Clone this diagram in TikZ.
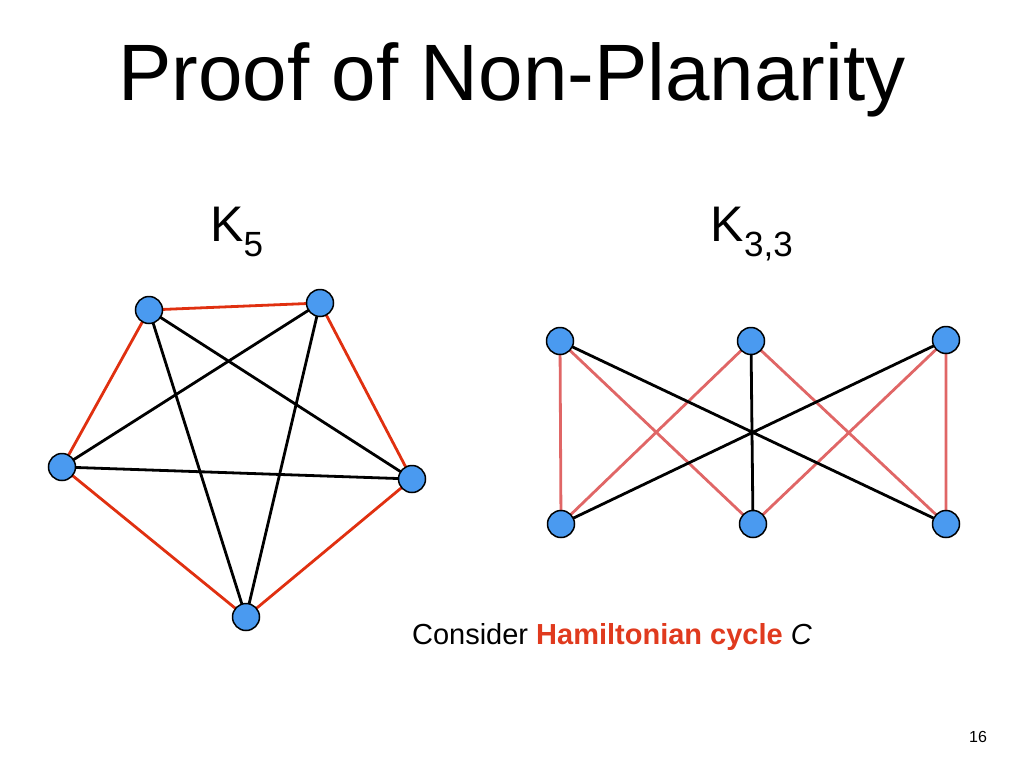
\documentclass[tikz,border=0pt]{standalone}
\usepackage{fontspec}
\setmainfont{Liberation Sans}
\begin{document}
\begin{tikzpicture}[x=1pt,y=-1pt,
  vtx/.style={circle,draw=black,line width=1.5pt,fill=vblue,minimum size=27pt,inner sep=0pt},
  redE/.style={draw=kred,line width=2.8pt},
  pinkE/.style={draw=kpink,line width=2.8pt},
  blkE/.style={draw=black,line width=2.8pt}]
\definecolor{vblue}{HTML}{4A9AF0}
\definecolor{kred}{HTML}{E03010}
\definecolor{kpink}{HTML}{E06666}
\definecolor{hred}{HTML}{E03A1E}
\useasboundingbox (0,0) rectangle (1024,768);
\node (title) at (512,80) {\fontsize{80}{90}\selectfont Proof of Non-Planarity};
\node (k5) at (237,232) {\fontsize{50}{60}\selectfont K\textsubscript{5}};
\node (k33) at (752,234) {\fontsize{50}{60}\selectfont K\textsubscript{3,3}};
\node (cap) at (612,637) {\fontsize{29}{34}\selectfont Consider \textbf{\color{hred}Hamiltonian cycle} \textit{C}};
\node (pg) at (978,737) {\fontsize{16}{19}\selectfont 16};
\coordinate (A) at (149,310); \coordinate (B) at (320,303); \coordinate (C) at (412,479);
\coordinate (D) at (246,617); \coordinate (E) at (62,467);
\draw[redE] (A)--(B)--(C)--(D)--(E)--cycle;
\draw[blkE] (A)--(C) (A)--(D) (B)--(E) (B)--(D) (E)--(C);
\foreach \p in {A,B,C,D,E} \node[vtx] (n\p) at (\p) {};
\coordinate (t1) at (560,341); \coordinate (t2) at (751,341); \coordinate (t3) at (946,340);
\coordinate (b1) at (561,524); \coordinate (b2) at (753,524); \coordinate (b3) at (946,524);
\draw[pinkE] (t1)--(b1) (t1)--(b2) (t2)--(b1) (t2)--(b3) (t3)--(b2) (t3)--(b3);
\draw[blkE] (t1)--(b3) (t2)--(b2) (t3)--(b1);
\foreach \p in {t1,t2,t3,b1,b2,b3} \node[vtx] (n\p) at (\p) {};
\end{tikzpicture}
\end{document}
